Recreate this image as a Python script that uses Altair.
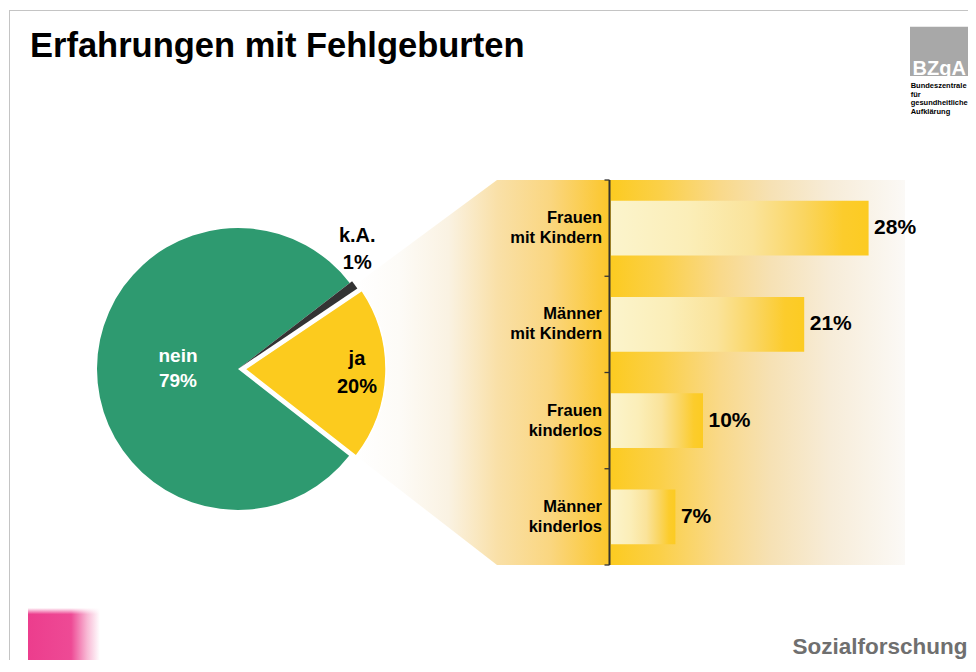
import math
import altair as alt
import pandas as pd

# ---------------- data ----------------
pie_cats = ["nein", "k.A.", "ja"]
pie_vals = [79, 1, 20]
pie_order = [1, 2, 3]

bar_cats = ["Frauen mit Kindern", "Männer mit Kindern", "Frauen kinderlos", "Männer kinderlos"]
bar_labels = ["Frauen\nmit Kindern", "Männer\nmit Kindern", "Frauen\nkinderlos", "Männer\nkinderlos"]
bar_vals = [28, 21, 10, 7]

title_text = "Erfahrungen mit Fehlgeburten"
logo_text = "BZgA"
logo_sub = ["Bundeszentrale", "für", "gesundheitliche", "Aufklärung"]
footer_text = "Sozialforschung"

# ---------------- style ----------------
W, H = 960, 652
FONT = "Liberation Sans"
GREEN = "#2e9a70"
DARK = "#333333"
YELLOW = "#fccb1e"


def grad(stops, x2=1, y2=0):
    return alt.LinearGradient(
        gradient="linear",
        stops=[alt.GradientStop(color=c, offset=o) for o, c in stops],
        x1=0, x2=x2, y1=0, y2=y2,
    )


bar_grad = grad([(0, "#fbf4cc"), (0.3, "#fbeeb8"), (0.55, "#fae39a"),
                 (0.75, "#fad560"), (0.9, "#fccc2c"), (1, "#fccb22")])
funnel_grad = grad([(0, "#ffffff"), (0.08, "#fdfbf7"), (0.17, "#faf2e2"),
                    (0.258, "#f9e0a8"), (0.355, "#fad680"), (0.458, "#fbc72e"),
                    (0.467, "#fccb22"), (0.555, "#fbd048"), (0.664, "#f9d98a"),
                    (0.755, "#f6e1b4"), (0.864, "#f7ecd8"), (1, "#fbf9f6")])
pink_grad = grad([(0, "#ec3d8d"), (0.6, "#ee4a95"), (0.82, "#f8b8d4"), (1, "#ffffff")])
pink_top = grad([(0, "#ffffff"), (0.12, "#ffffff00")], x2=0, y2=1)

one = pd.DataFrame({"k": [0]})


def text_at(text, x, y, size, color="black", weight="bold", align="left"):
    return alt.Chart(one).mark_text(
        font=FONT, fontSize=size, fontWeight=weight, color=color,
        align=align, baseline="alphabetic",
    ).encode(x=alt.value(x), y=alt.value(y), text=alt.value(text))


# ---------------- frame, title, logos ----------------
frame_top = alt.Chart(one).mark_rule(color="#c4c4c4", strokeWidth=1).encode(
    x=alt.value(1), x2=alt.value(W), y=alt.value(2.5))
frame_left = alt.Chart(one).mark_rule(color="#c4c4c4", strokeWidth=1).encode(
    x=alt.value(1.5), y=alt.value(2), y2=alt.value(H))

title = text_at(title_text, 22, 49, 34.5)

logo_box = alt.Chart(one).mark_rect(color="#a8a8a8").encode(
    x=alt.value(902), x2=alt.value(960), y=alt.value(18.7), y2=alt.value(68))
logo_main = text_at(logo_text, 904.5, 66.5, 20, color="white")
logo_lines = [text_at(t, 902.7, 80 + i * 8.5, 7.5) for i, t in enumerate(logo_sub)]

pink = alt.Chart(one).mark_rect(color=pink_grad).encode(
    x=alt.value(20), x2=alt.value(92), y=alt.value(600), y2=alt.value(H))
pink_fade = alt.Chart(one).mark_rect(color=pink_top).encode(
    x=alt.value(20), x2=alt.value(92), y=alt.value(600), y2=alt.value(H))

footer = text_at(footer_text, 959.5, 646, 22.5, color="#6f6f6f", align="right")

# ---------------- funnel background ----------------
funnel_df = pd.DataFrame({"fx": [347, 489, 897], "fy": [277, 172, 172], "fy2": [447, 557, 557]})
px = alt.Scale(domain=[0, W], range=[0, W], nice=False, zero=False)
py = alt.Scale(domain=[0, H], range=[0, H], nice=False, zero=False)
funnel = alt.Chart(funnel_df).mark_area(color=funnel_grad).encode(
    x=alt.X("fx:Q", scale=px, axis=None),
    y=alt.Y("fy:Q", scale=py, axis=None),
    y2="fy2:Q",
)

# ---------------- bars ----------------
bar_df = pd.DataFrame({"cat": bar_cats, "lab": bar_labels, "pct": bar_vals})
xs = alt.Scale(domain=[0, 32], range=[603, 897.4], nice=False, zero=False)
ys = alt.Scale(domain=bar_cats, range=[172, 557], paddingInner=0.43, paddingOuter=0.215)
X = alt.X("pct:Q", scale=xs, axis=None)
Y = alt.Y("cat:N", scale=ys, axis=None)
bb = alt.Chart(bar_df)

bars = bb.mark_bar(color=bar_grad).encode(x=X, y=Y)
bar_vals_txt = bb.transform_calculate(vlab="datum.pct + '%'").mark_text(
    align="left", baseline="middle", dx=5.5, font=FONT, fontWeight="bold",
    fontSize=21, color="black",
).encode(x=X, y=Y, text="vlab:N")
bar_cat_txt = bb.mark_text(
    align="right", baseline="middle", dx=-9, dy=-10, font=FONT, fontWeight="bold",
    fontSize=16.5, lineBreak="\n", lineHeight=20, color="black",
).encode(x=alt.datum(0), y=Y, text="lab:N")
axis_line = bb.mark_rule(color=DARK, strokeWidth=1.3, xOffset=-1.5).encode(
    x=alt.datum(0), y=alt.value(172), y2=alt.value(557))
ticks = bb.mark_rule(color=DARK, strokeWidth=1.3, xOffset=-6.5, x2Offset=-1.5,
                     yOffset=-48.125).encode(x=alt.datum(0), x2=alt.datum(0), y=Y)
tick_last = bb.transform_filter(alt.datum.cat == bar_cats[-1]).mark_rule(
    color=DARK, strokeWidth=1.3, xOffset=-6.5, x2Offset=-1.5, yOffset=48.125,
).encode(x=alt.datum(0), x2=alt.datum(0), y=Y)

bar_group = alt.layer(bars, bar_vals_txt, bar_cat_txt, axis_line, ticks, tick_last)

# ---------------- pie ----------------
pie_df = pd.DataFrame({"cat": pie_cats, "val": pie_vals, "ord": pie_order})
start = math.radians(128)
tscale = alt.Scale(domain=[0, 100], range=[start, start + 2 * math.pi])
pie_base = alt.Chart(pie_df).transform_window(
    cum="sum(val)", sort=[alt.SortField("ord")]
).transform_calculate(
    v0="datum.cum - datum.val",
    mid="datum.cum - datum.val / 2",
    lab="datum.cat + '\\n' + datum.val + '%'",
)

CX, CY = 230, 361


def arc(cat, color, r, cx, cy, **kw):
    return pie_base.transform_filter(alt.datum.cat == cat).mark_arc(
        radius=r, color=color, **kw
    ).encode(
        theta=alt.Theta("v0:Q", scale=tscale, stack=False),
        theta2="cum:Q",
        x=alt.value(cx), y=alt.value(cy),
    )


def pie_label(cat, color, r, cx, cy, size, lh, dx=0, dy=0):
    return pie_base.transform_filter(alt.datum.cat == cat).mark_text(
        radius=r, color=color, font=FONT, fontWeight="bold", fontSize=size,
        lineBreak="\n", lineHeight=lh, align="center", baseline="middle",
        dx=dx, dy=dy - lh / 2,
    ).encode(
        theta=alt.Theta("mid:Q", scale=tscale, stack=False),
        text="lab:N",
        x=alt.value(cx), y=alt.value(cy),
    )


arc_nein = arc("nein", GREEN, 141, CX, CY)
arc_ka = arc("k.A.", DARK, 144, CX, CY)
arc_ja = arc("ja", YELLOW, 141, CX + 7, CY + 0.2, stroke="white", strokeWidth=1.5)

lab_nein = pie_label("nein", "white", 60, CX, CY, 19, 25)
lab_ka = pie_label("k.A.", "black", 147, CX, CY, 20, 27, dy=-33.5)
lab_ja = pie_label("ja", "black", 112, CX + 7, CY + 0.2, 20, 28)

chart = alt.layer(
    frame_top, frame_left, title, logo_box, logo_main, *logo_lines,
    pink, pink_fade, footer, funnel, bar_group, arc_nein, arc_ka, arc_ja,
    lab_nein, lab_ka, lab_ja,
).resolve_scale(x="independent", y="independent").properties(
    width=W, height=H, padding=0, autosize=alt.AutoSizeParams(type="none"),
    background="white",
).configure_view(strokeWidth=0)

chart.save("out.html", embed_options={"renderer": "svg", "actions": False})
